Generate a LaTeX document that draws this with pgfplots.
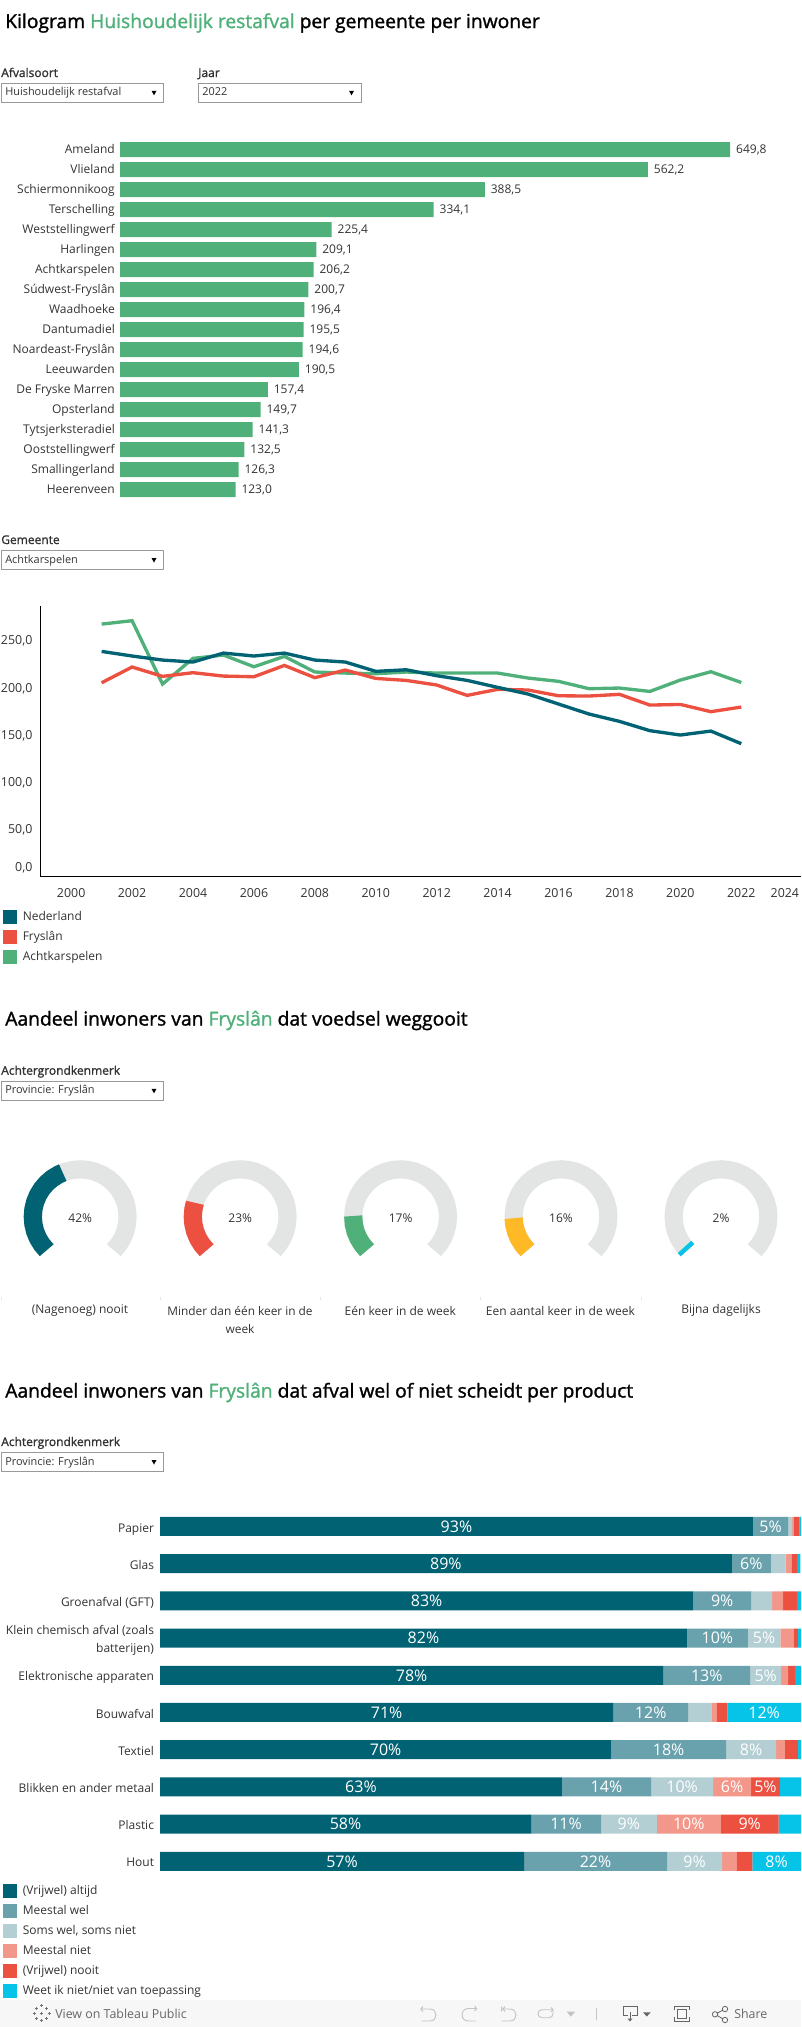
\documentclass[border=0pt]{standalone}
\usepackage{fontspec}
\setmainfont{Open Sans}
\newfontfamily\semibold[FakeBold=1.4]{Open Sans}
\usepackage{pgfplots}
\usepackage{pgfplotstable}
\pgfplotsset{compat=1.18}
\usepgfplotslibrary{polar}

% 1 px of the reference = 0.75pt here
\definecolor{fgreen}{HTML}{4FB179}
\definecolor{fteal}{HTML}{006272}
\definecolor{fred}{HTML}{EC5040}
\definecolor{fwel}{HTML}{69A1AD}
\definecolor{fsoms}{HTML}{B3CFD3}
\definecolor{fniet}{HTML}{F3978B}
\definecolor{fcyan}{HTML}{06C3E8}
\definecolor{famber}{HTML}{FFB826}
\definecolor{ftrack}{HTML}{E3E5E5}
\definecolor{ftext}{HTML}{333333}
\definecolor{fbox}{HTML}{999999}
\definecolor{ffoot}{HTML}{F7F7F7}
\definecolor{ficon}{HTML}{C4C4C4}

\pgfplotstableread{
i v
0 649.8
1 562.2
2 388.5
3 334.1
4 225.4
5 209.1
6 206.2
7 200.7
8 196.4
9 195.5
10 194.6
11 190.5
12 157.4
13 149.7
14 141.3
15 132.5
16 126.3
17 123.0
}\gemeenten

\pgfplotstableread{
jaar nl fr ak
2001 239.2 205.9 268.2
2002 234.3 222.6 271.8
2003 230.0 212.7 204.5
2004 227.9 216.6 231.8
2005 237.4 213.0 235.3
2006 234.3 212.3 222.9
2007 237.4 224.3 233.9
2008 230.0 211.3 217.3
2009 227.9 219.4 216.2
2010 218.0 210.5 215.5
2011 219.7 208.4 217.3
2012 213.4 203.5 216.2
2013 208.4 192.5 216.2
2014 201.0 198.9 216.2
2015 193.9 198.2 210.9
2016 183.3 192.1 207.4
2017 172.7 191.8 199.6
2018 164.9 193.6 200.3
2019 155.0 182.2 196.7
2020 150.4 182.9 208.8
2021 154.6 175.2 217.6
2022 141.2 180.1 206.2
}\trend

% bar shares and the label printed on them (0 = no label)
\pgfplotstableread{
i a al b bl c cl d dl e el f fl
0 92.5 93 5.5 5 0.6 0 0.3 0 0.9 0 0.2 0
1 89.2 89 6.1 6 2.3 0 0.9 0 0.9 0 0.5 0
2 83.2 83 9.0 9 3.3 0 1.7 0 2.2 0 0.6 0
3 82.2 82 9.5 10 5.1 5 2.0 0 0.7 0 0.5 0
4 78.5 78 13.6 13 4.8 5 1.1 0 1.1 0 0.9 0
5 70.7 71 11.7 12 3.6 0 0.8 0 1.7 0 11.5 12
6 70.4 70 17.9 18 7.8 8 1.4 0 2.0 0 0.5 0
7 62.7 63 13.9 14 9.7 10 5.9 6 4.5 5 3.3 0
8 57.9 58 10.9 11 8.7 9 10.0 10 9.0 9 3.5 0
9 56.8 57 22.3 22 8.6 9 2.2 0 2.5 0 7.6 8
}\scheiding

\newcommand\seg[3]{%
  \addplot[fill=#1,draw=none,
    nodes near coords={\ifnum\pgfplotspointmeta=0 \else\pgfplotspointmeta\%\fi},
    every node near coord/.append style={anchor=center,text=white,font=\fontsize{12}{14}\selectfont,inner sep=0pt},
    point meta=explicit symbolic]
    table[x=#2,y=i,meta=#3]{\scheiding};
}

% one gauge: track plus value arc, angles in degrees (225 = 0%, -45 = 100%)
\newcommand\gauge[4]{%
  \begin{polaraxis}[hide axis,at={(#1*0.75pt,-1216.7*0.75pt)},anchor=center,
    scale only axis,width=90pt,height=90pt,xmin=0,xmax=360,ymin=0,ymax=60,clip=false]
    \addplot[ftrack,line width=13.65pt] coordinates {
      (225,47.4)(216,47.4)(207,47.4)(198,47.4)(189,47.4)(180,47.4)(171,47.4)(162,47.4)
      (153,47.4)(144,47.4)(135,47.4)(126,47.4)(117,47.4)(108,47.4)(99,47.4)(90,47.4)
      (81,47.4)(72,47.4)(63,47.4)(54,47.4)(45,47.4)(36,47.4)(27,47.4)(18,47.4)(9,47.4)
      (0,47.4)(-9,47.4)(-18,47.4)(-27,47.4)(-36,47.4)(-45,47.4)};
    \addplot[#2,line width=13.65pt] coordinates {#3};
  \end{polaraxis}
  \node[font=\fontsize{9}{11}\selectfont,text=ftext] at (#1*0.75pt,-1217.7*0.75pt) {#4\%};
}

\begin{document}
\begin{tikzpicture}
\path[use as bounding box] (0,0) rectangle (600.75pt,-1520.25pt);

% top bars
\begin{axis}[at={(90pt,-104.625pt)},anchor=north west,scale only axis,
  width=457.65pt,height=270pt,
  xbar,bar width=11.25pt,y dir=reverse,
  xmin=0,xmax=649.8,ymin=-0.5,ymax=17.5,clip=false,
  axis line style={draw=none},tick style={draw=none},major tick length=0pt,
  xtick=\empty,ytick={0,...,17},
  yticklabels={Ameland,Vlieland,Schiermonnikoog,Terschelling,Weststellingwerf,Harlingen,Achtkarspelen,Súdwest-Fryslân,Waadhoeke,Dantumadiel,Noardeast-Fryslân,Leeuwarden,De Fryske Marren,Opsterland,Tytsjerksteradiel,Ooststellingwerf,Smallingerland,Heerenveen},
  y tick label style={font=\fontsize{9}{11}\selectfont,text=ftext,inner sep=0pt,xshift=-3.7pt,text height=8pt,text depth=1.5pt},
  nodes near coords,point meta=x,
  every node near coord/.append style={font=\fontsize{9}{11}\selectfont,text=ftext,inner sep=4.3pt},
  /pgf/number format/.cd,fixed,fixed zerofill,precision=1,use comma,assume math mode=true]
  \addplot[fill=fgreen,draw=none] table[x=v,y=i]{\gemeenten};
\end{axis}

% trend lines
\begin{axis}[at={(30.3pt,-454.5pt)},anchor=north west,scale only axis,
  width=570.45pt,height=203pt,
  xmin=1998.99,xmax=2023.96,ymin=0,ymax=287.4,
  axis x line*=bottom,axis y line*=left,axis line style={-,line width=0.9pt,black},
  tick style={draw=none},major tick length=0pt,
  xtick={2000,2002,2004,2006,2008,2010,2012,2014,2016,2018,2020,2022,2023.43},
  xticklabels={2000,2002,2004,2006,2008,2010,2012,2014,2016,2018,2020,2022,2024},
  ytick={9.2,50,100,150,200,250},
  yticklabels={{0,0},{50,0},{100,0},{150,0},{200,0},{250,0}},
  x tick label style={font=\fontsize{9.3}{11}\selectfont,text=ftext,inner sep=0pt,yshift=-8.6pt},
  y tick label style={font=\fontsize{9.3}{11}\selectfont,text=ftext,inner sep=0pt,xshift=-5.8pt},
  clip=false]
  \addplot[fgreen,line width=2.5pt] table[x=jaar,y=ak]{\trend};
  \addplot[fred,line width=2.5pt] table[x=jaar,y=fr]{\trend};
  \addplot[fteal,line width=2.5pt] table[x=jaar,y=nl]{\trend};
\end{axis}

% gauges
\gauge{80.2}{fteal}{(225,47.4)(216,47.4)(207,47.4)(198,47.4)(189,47.4)(180,47.4)(171,47.4)(162,47.4)(153,47.4)(144,47.4)(135,47.4)(126,47.4)(117,47.4)(111.6,47.4)}{42}
\gauge{240.2}{fred}{(225,47.4)(216,47.4)(207,47.4)(198,47.4)(189,47.4)(180,47.4)(171,47.4)(162.9,47.4)}{23}
\gauge{400.6}{fgreen}{(225,47.4)(216,47.4)(207,47.4)(198,47.4)(189,47.4)(179.1,47.4)}{17}
\gauge{561}{famber}{(225,47.4)(216,47.4)(207,47.4)(198,47.4)(189,47.4)(181.8,47.4)}{16}
\gauge{721}{fcyan}{(225,47.4)(219.6,47.4)}{2}

% stacked bars
\begin{axis}[at={(120pt,-1130.9pt)},anchor=north west,scale only axis,
  width=480.75pt,height=279pt,
  xbar stacked,bar width=14.25pt,y dir=reverse,
  xmin=0,xmax=100,ymin=-0.5,ymax=9.5,
  axis line style={draw=none},tick style={draw=none},major tick length=0pt,
  xtick=\empty,ytick={0,...,9},
  yticklabels={Papier\strut,Glas\strut,Groenafval (GFT)\strut,{Klein chemisch afval (zoals\strut\\batterijen)\strut},Elektronische apparaten\strut,Bouwafval\strut,Textiel\strut,Blikken en ander metaal\strut,Plastic\strut,Hout\strut},
  y tick label style={font=\fontsize{9}{13.3}\selectfont,text=ftext,inner sep=0pt,xshift=-4.3pt,yshift=-1.5pt,align=right}]
  \seg{fteal}{a}{al}
  \seg{fwel}{b}{bl}
  \seg{fsoms}{c}{cl}
  \seg{fniet}{d}{dl}
  \seg{fred}{e}{el}
  \seg{fcyan}{f}{fl}
\end{axis}

\begin{scope}[x=0.75pt,y=-0.75pt]
  \newcommand\dropdown[4]{%
    \draw[fbox,line width=0.6pt] (#1,#2) rectangle (#3,#2+19);
    \fill[black] (#3-12,#2+7.5)--(#3-7,#2+7.5)--(#3-9.5,#2+12)--cycle;
    \node[anchor=west,inner sep=0pt,font=\fontsize{8.2}{10}\selectfont,text=ftext,text height=6.5pt,text depth=2pt] at (#1+4,#2+9.5) {#4};
  }
  \newcommand\filterlabel[3]{\node[anchor=west,inner sep=0pt,font=\fontsize{9}{10}\selectfont\semibold,text=ftext,text height=6.5pt,text depth=2pt] at (#1,#2) {#3};}
  \newcommand\legenditem[3]{%
    \fill[#2] (3,#1-7)rectangle(17,#1+7);
    \node[anchor=west,inner sep=0pt,font=\fontsize{9}{11}\selectfont,text=ftext,text height=7pt,text depth=2pt] at (22.5,#1) {#3};
  }
  \tikzset{ttl/.style={anchor=west,inner sep=0pt,font=\fontsize{14.45}{16}\selectfont\semibold,text=black}}

  \node[ttl] at (5,23) {Kilogram \textcolor{fgreen}{Huishoudelijk restafval} per gemeente per inwoner};
  \filterlabel{1}{74}{Afvalsoort}
  \filterlabel{198}{74}{Jaar}
  \dropdown{1}{83.3}{163.5}{Huishoudelijk restafval}
  \dropdown{198}{83.3}{361}{2022}

  \filterlabel{1}{541}{Gemeente}
  \dropdown{1}{550.5}{163.5}{Achtkarspelen}
  \legenditem{916.7}{fteal}{Nederland}
  \legenditem{936.7}{fred}{Fryslân}
  \legenditem{957}{fgreen}{Achtkarspelen}

  \node[ttl] at (5,1020.5) {Aandeel inwoners van \textcolor{fgreen}{Fryslân} dat voedsel weggooit};
  \filterlabel{1}{1071.7}{Achtergrondkenmerk}
  \dropdown{1}{1081.3}{163.5}{Provincie: Fryslân}

  \foreach \xx in {1,160.4,320,480,641}
    \draw[ftrack,line width=0.5pt] (\xx,1297)--(\xx,1300);
  \foreach \xx/\txt in {80/(Nagenoeg) nooit,400.3/Eén keer in de week,560.5/Een aantal keer in de week,721/Bijna dagelijks}
    \node[font=\fontsize{9}{11}\selectfont,text=ftext,inner sep=0pt] at (\xx,1310.7) {\txt};
  \node[font=\fontsize{8.9}{13.5}\selectfont,text=ftext,inner sep=0pt,align=center] at (240,1319.7) {Minder dan één keer in de\\week};

  \node[ttl] at (5,1392.5) {Aandeel inwoners van \textcolor{fgreen}{Fryslân} dat afval wel of niet scheidt per product};
  \filterlabel{1}{1443}{Achtergrondkenmerk}
  \dropdown{1}{1452.5}{163.5}{Provincie: Fryslân}

  \legenditem{1890.7}{fteal}{(Vrijwel) altijd}
  \legenditem{1910.8}{fwel}{Meestal wel}
  \legenditem{1930.9}{fsoms}{Soms wel, soms niet}
  \legenditem{1951}{fniet}{Meestal niet}
  \legenditem{1971}{fred}{(Vrijwel) nooit}
  \legenditem{1991}{fcyan}{Weet ik niet/niet van toepassing}

  % footer bar
  \fill[ffoot] (0,2000) rectangle (801,2027);
  \node[anchor=west,inner sep=0pt,font=\fontsize{9.3}{11}\selectfont,text=black!60] at (55,2013.5) {View on Tableau Public};
  \node[anchor=west,inner sep=0pt,font=\fontsize{9.3}{11}\selectfont,text=black!60] at (734,2013.5) {Share};
  \foreach \dx/\dy in {0/0,-5/-5,5/-5,-5/5,5/5,0/-7.5,0/7.5,-7.5/0,7.5/0}
    \draw[black!55,line width=0.5pt,shift={(41.7+\dx,2013.3+\dy)}] (-1.5,0)--(1.5,0) (0,-1.5)--(0,1.5);
  % undo, redo, revert, refresh
  \draw[ficon,line width=0.7pt] (423,2006.5)--(420.7,2009)--(423,2011.5) (420.7,2009)--(430,2009) .. controls (438,2009) and (438,2021) .. (430,2021)--(421.7,2021);
  \draw[ficon,line width=0.7pt] (474.5,2006)--(476.7,2008.5)--(474.5,2011) (476.7,2008.5)--(468.3,2008.5) .. controls (460,2008.5) and (460,2021) .. (468.3,2021)--(476,2021);
  \draw[ficon,line width=0.7pt] (501.7,2006.7)--(501.7,2011.7) (505,2006.5)--(503,2009)--(505,2011.5) (503,2009)--(510,2009) .. controls (518,2009) and (518,2021) .. (510,2021)--(501.7,2021);
  \draw[ficon,line width=0.7pt,rounded corners=3pt] (553,2009.7)--(538,2009.7)--(538,2017.7)--(553,2017.7)--(553,2009.7);
  \draw[ficon,line width=0.7pt] (551,2007.5)--(553,2009.7)--(551,2012);
  \fill[ficon] (566.7,2011.7)--(575,2011.7)--(570.8,2016.7)--cycle;
  \draw[ficon,line width=0.6pt] (596.7,2007.7)--(596.7,2020);
  % download, fullscreen, share
  \draw[black!60,line width=0.6pt] (628,2015.7)--(623.3,2015.7)--(623.3,2006)--(637.3,2006)--(637.3,2015.7)--(632,2015.7) (630,2012)--(630,2019);
  \fill[black!60] (627.5,2018.5)--(632.5,2018.5)--(630,2021.5)--cycle;
  \fill[black!60] (643,2012.3)--(650.7,2012.3)--(646.8,2016.5)--cycle;
  \draw[black!60,line width=0.6pt] (677.3,2009)rectangle(686.7,2018.3) (674,2010)--(674,2006)--(689.3,2006)--(689.3,2010) (674,2017)--(674,2021)--(689.3,2021)--(689.3,2017);
  \draw[black!60,line width=0.6pt] (715,2014.3) circle[radius=2.7] (725,2009) circle[radius=2.7] (725,2020) circle[radius=2.7] (717.4,2013)--(722.6,2010.3) (717.4,2015.6)--(722.6,2018.7);
\end{scope}
\end{tikzpicture}
\end{document}
